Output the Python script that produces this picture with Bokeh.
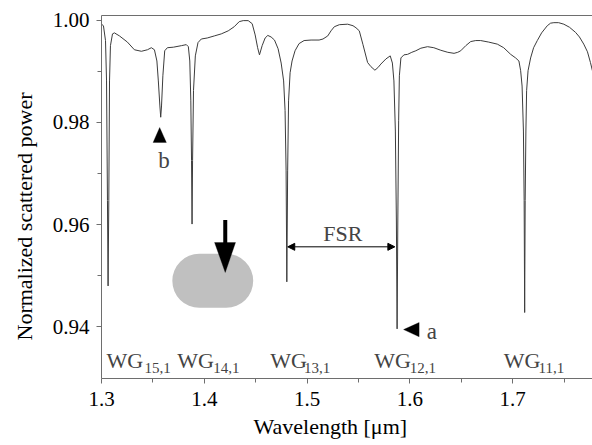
import math
from bokeh.plotting import figure
from bokeh.models import (Range1d, FixedTicker, NumeralTickFormatter, LinearAxis, Title,
                          Label, Arrow, NormalHead, PolyAnnotation, BoxAnnotation)
from bokeh.embed import file_html
from bokeh.resources import INLINE

# ---------------- data ----------------
wavelength = [
    1.3000, 1.3019, 1.3039, 1.3049, 1.3058, 1.3064, 1.3071, 1.3078, 1.3087, 1.3107,
    1.3126, 1.3175, 1.3252, 1.3320, 1.3388, 1.3447, 1.3485, 1.3515, 1.3539, 1.3553,
    1.3568, 1.3576, 1.3584, 1.3597, 1.3615, 1.3641, 1.3699, 1.3777, 1.3825, 1.3845,
    1.3859, 1.3869, 1.3876, 1.3881, 1.3886, 1.3895, 1.3913, 1.3939, 1.3971, 1.4029,
    1.4097, 1.4165, 1.4233, 1.4291, 1.4340, 1.4379, 1.4427, 1.4466, 1.4495, 1.4519,
    1.4537, 1.4563, 1.4592, 1.4618, 1.4650, 1.4683, 1.4718, 1.4748, 1.4772, 1.4786,
    1.4796, 1.4803, 1.4811, 1.4820, 1.4835, 1.4854, 1.4883, 1.4922, 1.4971, 1.5039,
    1.5117, 1.5155, 1.5201, 1.5233, 1.5265, 1.5314, 1.5395, 1.5447, 1.5476, 1.5508,
    1.5544, 1.5589, 1.5621, 1.5660, 1.5689, 1.5718, 1.5767, 1.5809, 1.5830, 1.5845,
    1.5859, 1.5869, 1.5876, 1.5883, 1.5891, 1.5898, 1.5913, 1.5942, 1.5978, 1.6019,
    1.6058, 1.6107, 1.6172, 1.6233, 1.6301, 1.6369, 1.6430, 1.6466, 1.6495, 1.6544,
    1.6592, 1.6641, 1.6689, 1.6767, 1.6851, 1.6913, 1.6981, 1.7029, 1.7061, 1.7078,
    1.7092, 1.7105, 1.7112, 1.7117, 1.7122, 1.7129, 1.7136, 1.7150, 1.7175, 1.7204,
    1.7240, 1.7282, 1.7337, 1.7369, 1.7401, 1.7447, 1.7498, 1.7553, 1.7612, 1.7650,
    1.7692, 1.7728, 1.7757, 1.7786,
]
power = [
    0.9992, 0.9989, 0.9960, 0.9881, 0.9647, 0.9480, 0.9647, 0.9881, 0.9950, 0.9973,
    0.9975, 0.9969, 0.9957, 0.9942, 0.9939, 0.9942, 0.9946, 0.9942, 0.9920, 0.9881,
    0.9832, 0.9810, 0.9832, 0.9891, 0.9940, 0.9946, 0.9947, 0.9950, 0.9952, 0.9948,
    0.9920, 0.9842, 0.9725, 0.9601, 0.9725, 0.9862, 0.9930, 0.9956, 0.9963, 0.9965,
    0.9969, 0.9973, 0.9979, 0.9987, 0.9997, 0.9999, 0.9999, 0.9993, 0.9971, 0.9946,
    0.9932, 0.9950, 0.9965, 0.9970, 0.9967, 0.9961, 0.9944, 0.9916, 0.9881, 0.9823,
    0.9705, 0.9488, 0.9705, 0.9842, 0.9897, 0.9920, 0.9940, 0.9954, 0.9960, 0.9961,
    0.9961, 0.9963, 0.9969, 0.9979, 0.9987, 0.9991, 0.9992, 0.9989, 0.9985, 0.9979,
    0.9952, 0.9917, 0.9909, 0.9902, 0.9907, 0.9914, 0.9924, 0.9930, 0.9916, 0.9881,
    0.9783, 0.9607, 0.9396, 0.9607, 0.9803, 0.9891, 0.9926, 0.9932, 0.9933, 0.9937,
    0.9940, 0.9945, 0.9948, 0.9946, 0.9941, 0.9937, 0.9935, 0.9937, 0.9940, 0.9950,
    0.9958, 0.9960, 0.9960, 0.9957, 0.9953, 0.9946, 0.9933, 0.9926, 0.9920, 0.9901,
    0.9871, 0.9783, 0.9647, 0.9428, 0.9647, 0.9783, 0.9862, 0.9901, 0.9926, 0.9946,
    0.9960, 0.9975, 0.9989, 0.9994, 0.9995, 0.9995, 0.9992, 0.9986, 0.9976, 0.9967,
    0.9953, 0.9938, 0.9917, 0.9893,
]

x_major_ticks = [1.3, 1.4, 1.5, 1.6, 1.7]
x_minor_ticks = [1.35, 1.45, 1.55, 1.65, 1.75]
y_major_ticks = [0.94, 0.96, 0.98, 1.00]
y_minor_ticks = [0.95, 0.97, 0.99]

mode_names = ["WG", "WG", "WG", "WG", "WG"]
mode_orders = ["15,1", "14,1", "13,1", "12,1", "11,1"]

# ---------------- layout / annotation positions ----------------
X_START, X_END = 1.3, 1.7777
Y_START, Y_END = 0.92989, 1.0009

mode_name_x = [1.3049, 1.3738, 1.4641, 1.5653, 1.6913]
mode_order_x = [1.3418, 1.4087, 1.4971, 1.6000, 1.7252]
MODE_NAME_Y = 0.93341
MODE_ORDER_Y = 0.93185

SERIF = "Liberation Serif"
AXIS_GRAY = "#6e6e6e"

p = figure(width=592, height=445, output_backend="svg", toolbar_location=None,
           x_range=Range1d(X_START, X_END), y_range=Range1d(Y_START, Y_END),
           min_border_left=100, min_border_right=0, min_border_top=15,
           min_border_bottom=67)
p.outline_line_color = None
p.grid.visible = False
p.background_fill_color = "white"
p.border_fill_color = "white"

# curve
p.line(wavelength, power, line_color="#3c3c3c", line_width=1)

# axes
xa = p.xaxis[0]
xa.ticker = FixedTicker(ticks=x_major_ticks, minor_ticks=x_minor_ticks)
xa.formatter = NumeralTickFormatter(format="0.0")
ya = p.yaxis[0]
ya.ticker = FixedTicker(ticks=y_major_ticks, minor_ticks=y_minor_ticks)
ya.formatter = NumeralTickFormatter(format="0.00")
for ax in (xa, ya):
    ax.axis_line_color = AXIS_GRAY
    ax.major_tick_line_color = AXIS_GRAY
    ax.minor_tick_line_color = AXIS_GRAY
    ax.major_tick_in = 0
    ax.major_tick_out = 5
    ax.minor_tick_in = 0
    ax.minor_tick_out = 4
    ax.major_label_text_font = SERIF
    ax.major_label_text_font_size = "21px"
    ax.major_label_text_color = "black"
xa.major_label_standoff = 8
ya.major_label_standoff = 7

top_axis = LinearAxis(ticker=FixedTicker(ticks=[]), major_label_text_font_size="0px",
                      major_tick_line_color=None, minor_tick_line_color=None,
                      axis_line_color=AXIS_GRAY, major_label_standoff=0)
p.add_layout(top_axis, "above")

# axis titles
p.add_layout(Title(text="Wavelength [μm]", align="left", offset=152, standoff=6,
                   vertical_align="bottom", text_font=SERIF, text_font_size="22px",
                   text_font_style="normal", text_color="black"), "below")
p.add_layout(Title(text="Normalized scattered power", align="left", offset=38, standoff=22,
                   vertical_align="top", text_font=SERIF, text_font_size="22px",
                   text_font_style="normal", text_color="black"), "left")

# mode labels
for name, order, nx, ox in zip(mode_names, mode_orders, mode_name_x, mode_order_x):
    p.add_layout(Label(x=nx, y=MODE_NAME_Y, text=name, text_font=SERIF, text_font_size="22px",
                       text_align="left", text_baseline="alphabetic"))
    p.add_layout(Label(x=ox, y=MODE_ORDER_Y, text=order, text_font=SERIF, text_font_size="15px",
                       text_align="left", text_baseline="alphabetic"))

# grey rounded object with arrow
p.add_layout(BoxAnnotation(left=1.3689, right=1.4476, top=0.95428, bottom=0.94372,
                           fill_color="#c0c0c0", fill_alpha=1.0, line_color=None,
                           border_radius=27))
p.add_layout(Arrow(x_start=1.4204, y_start=0.96088, x_end=1.4204, y_end=0.95600,
                   end=None, line_width=4, line_color="black"))
p.add_layout(PolyAnnotation(xs=[1.4100, 1.4304, 1.4204], ys=[0.95649, 0.95649, 0.95063],
                            fill_color="black", fill_alpha=1.0, line_color="black"))

# FSR
p.add_layout(Arrow(x_start=1.4812, y_start=0.95565, x_end=1.5854, y_end=0.95565,
                   line_width=1, line_color="black",
                   start=NormalHead(size=7, fill_color="black", line_color="black"),
                   end=NormalHead(size=7, fill_color="black", line_color="black")))
p.add_layout(Label(x=1.5347, y=0.95825, text="FSR", text_font=SERIF, text_font_size="22px",
                   text_align="center", text_baseline="alphabetic"))

# markers a and b
p.add_layout(PolyAnnotation(xs=[1.3566, 1.3502, 1.3631], ys=[0.97899, 0.97606, 0.97606],
                            fill_color="black", fill_alpha=1.0, line_color="black"))
p.add_layout(Label(x=1.3607, y=0.97248, text="b", text_font=SERIF, text_font_size="23px",
                   text_align="center", text_baseline="alphabetic"))
p.add_layout(PolyAnnotation(xs=[1.5939, 1.6090, 1.6090], ys=[0.93946, 0.94084, 0.93805],
                            fill_color="black", fill_alpha=1.0, line_color="black"))
p.add_layout(Label(x=1.6165, y=0.93908, text="a", text_font=SERIF, text_font_size="23px",
                   text_align="left", text_baseline="alphabetic"))

open("out.html", "w").write(file_html(p, INLINE))
